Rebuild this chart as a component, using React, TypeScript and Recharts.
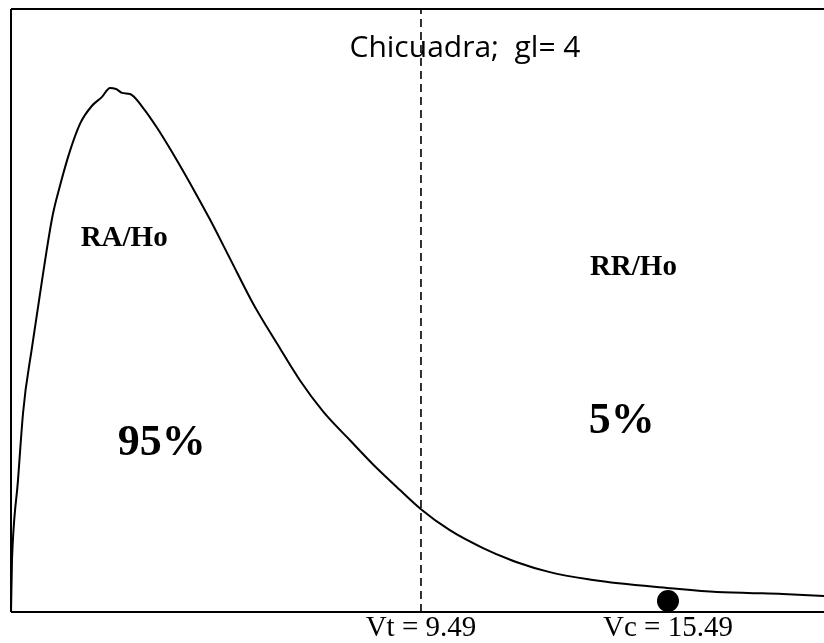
import { ComposedChart, Line, XAxis, YAxis, ReferenceLine, ReferenceDot } from 'recharts';

// chi-square value (x) and density (y)
const chiValues = [
  -0.469, -0.445, -0.299, -0.177, 0.041, 0.284, 0.551, 0.721, 0.964, 1.207, 1.499,
  1.742, 1.936, 2.082, 2.228, 2.422, 2.738, 3.078, 3.467, 4.049, 4.365, 4.851,
  5.41, 5.993, 6.552, 7.11, 7.766, 8.42, 8.98, 9.49, 10.19, 10.997, 11.82, 12.62,
  13.67, 15.54, 16.68, 18.28, 19.28,
];
const density = [
  0, 0.0198, 0.0503, 0.0758, 0.1009, 0.1264, 0.1519, 0.1626, 0.1759, 0.1862, 0.1931,
  0.1965, 0.1999, 0.1995, 0.198, 0.1976, 0.1923, 0.1847, 0.1748, 0.1588, 0.1497, 0.1348,
  0.1177, 0.1024, 0.0883, 0.0765, 0.0655, 0.0548, 0.0465, 0.0392, 0.0312, 0.0244, 0.019, 0.0152,
  0.0122, 0.0091, 0.0076, 0.0069, 0.0061,
];

const xDomain = [-0.469, 19.28];
const yDomain = [0, 0.23];

const critical = 9.49;
const observed = 15.49;
const observedY = 0.0042;

const title = 'Chicuadra;\u00a0\u00a0gl=\u00a04';
const notes = [
  { x: 2.28, y: 0.1436, text: 'RA/Ho', size: 29 },
  { x: 3.19, y: 0.0659, text: '95%', size: 44 },
  { x: 14.65, y: 0.1323, text: 'RR/Ho', size: 29 },
  { x: 14.37, y: 0.0744, text: '5%', size: 44 },
];

const data = chiValues.map((x, i) => ({ x, y: density[i] }));

const serif = '"Liberation Serif", "Times New Roman", serif';

export default function App() {
  return (
    <div style={{ position: 'fixed', left: 0, top: 0 }}>
      <ComposedChart width={824} height={643} data={data} margin={{ top: 9, right: 0, bottom: 0, left: 8 }}>
        <XAxis
          dataKey="x"
          type="number"
          domain={xDomain}
          allowDataOverflow
          tick={false}
          tickLine={false}
          height={31}
          axisLine={{ stroke: '#000', strokeWidth: 2 }}
        />
        <YAxis
          type="number"
          domain={yDomain}
          allowDataOverflow
          tick={false}
          tickLine={false}
          width={3}
          axisLine={{ stroke: '#000', strokeWidth: 2 }}
        />
        <ReferenceLine y={yDomain[1]} stroke="#000" strokeWidth={2} />
        <ReferenceLine
          x={critical}
          stroke="#000"
          strokeWidth={1.6}
          strokeDasharray="8 5"
          label={{ value: `Vt = ${critical}`, position: 'bottom', offset: 3, fontFamily: serif, fontSize: 29, fill: '#000' }}
        />
        <Line
          dataKey="y"
          type="monotone"
          stroke="#000"
          strokeWidth={2}
          dot={false}
          activeDot={false}
          isAnimationActive={false}
        />
        <ReferenceDot
          x={observed}
          y={observedY}
          r={11}
          fill="#000"
          stroke="none"
          ifOverflow="visible"
          label={{ value: `Vc = ${observed}`, position: 'bottom', offset: 3, fontFamily: serif, fontSize: 29, fill: '#000' }}
        />
        <ReferenceDot
          x={10.56}
          y={0.2159}
          r={0}
          fill="none"
          stroke="none"
          label={{ value: title, position: 'center', fontFamily: '"Open Sans", sans-serif', fontSize: 30, fill: '#000' }}
        />
        {notes.map((n) => (
          <ReferenceDot
            key={n.text}
            x={n.x}
            y={n.y}
            r={0}
            fill="none"
            stroke="none"
            label={{ value: n.text, position: 'center', fontFamily: serif, fontWeight: 'bold', fontSize: n.size, fill: '#000' }}
          />
        ))}
      </ComposedChart>
    </div>
  );
}
